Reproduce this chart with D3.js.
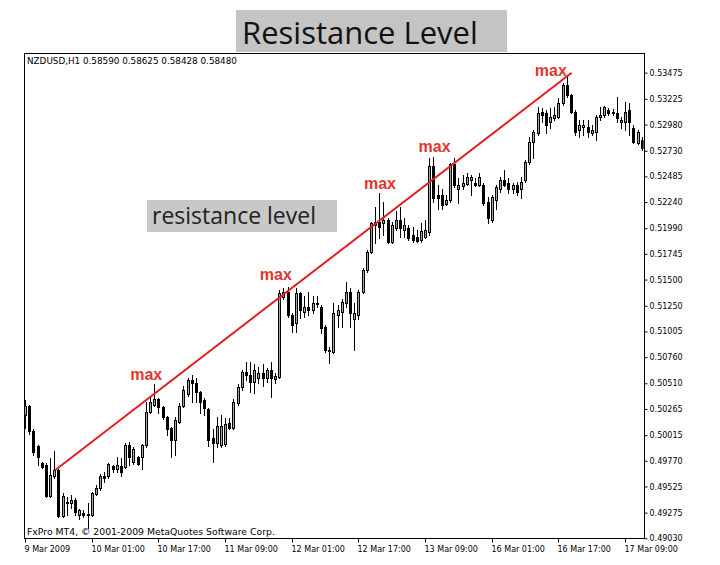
<!DOCTYPE html>
<html><head><meta charset="utf-8">
<script src="https://cdn.jsdelivr.net/npm/d3@7"></script>
<style>body{margin:0;background:#fff}</style>
</head><body>
<svg id="c" width="720" height="565"></svg>
<script>
// ---------- DATA ----------
const symbolHeader = "NZDUSD,H1  0.58590 0.58625 0.58428 0.58480";
const copyright = "FxPro MT4, \u00A9 2001-2009 MetaQuotes Software Corp.";
const timeLabels = ["9 Mar 2009","10 Mar 01:00","10 Mar 17:00","11 Mar 09:00","12 Mar 01:00","12 Mar 17:00","13 Mar 09:00","16 Mar 01:00","16 Mar 17:00","17 Mar 09:00"];
const timeLabelBars = [0,16,32,48,64,80,96,112,128,144];
const priceTicks = [0.53475,0.53225,0.52980,0.52730,0.52485,0.52240,0.51990,0.51745,0.51500,0.51250,0.51005,0.50760,0.50510,0.50265,0.50015,0.49770,0.49525,0.49275,0.49030];

const open = [.5021,.5029,.5005,.4991,.4975,.4973,.4943,.4962,.4968,.4924,
.4938,.4937,.4940,.4925,.4927,.4926,.4925,.4945,.4951,.4962,
.4962,.4972,.4969,.4972,.4971,.4992,.4976,.4981,.4981,.4992,
.5024,.5030,.5036,.5028,.5019,.5008,.4997,.5014,.5029,.5041,
.5054,.5051,.5043,.5035,.5026,.4999,.4994,.4992,.4993,.5013,
.5008,.5032,.5047,.5062,.5059,.5052,.5056,.5061,.5056,.5064,
.5055,.5057,.5133,.5138,.5116,.5109,.5137,.5119,.5124,.5121,
.5128,.5124,.5105,.5083,.5081,.5116,.5119,.5128,.5138,.5112,
.5116,.5138,.5159,.5176,.5202,.5205,.5204,.5207,.5186,.5199,
.5207,.5197,.5199,.5193,.5191,.5188,.5191,.5195,.5258,.5231,
.5231,.5222,.5226,.5260,.5236,.5239,.5241,.5245,.5242,.5240,
.5240,.5224,.5207,.5226,.5236,.5245,.5242,.5236,.5240,.5236,
.5245,.5262,.5281,.5290,.5310,.5309,.5300,.5304,.5305,.5319,
.5336,.5326,.5310,.5293,.5296,.5296,.5290,.5291,.5305,.5307,
.5312,.5309,.5309,.5300,.5300,.5312,.5295,.5280,.5283];
const high = [.5035,.5030,.5007,.4992,.4976,.4975,.4980,.4986,.4969,.4946,
.4942,.4944,.4941,.4931,.4930,.4937,.4947,.4954,.4964,.4966,
.4975,.4973,.4981,.4980,.4994,.4995,.4990,.4982,.4993,.5033,
.5038,.5050,.5037,.5029,.5020,.5009,.5019,.5032,.5048,.5056,
.5059,.5056,.5044,.5037,.5027,.5007,.5019,.5021,.5018,.5018,
.5036,.5050,.5064,.5071,.5071,.5069,.5067,.5069,.5066,.5071,
.5061,.5140,.5142,.5143,.5118,.5142,.5138,.5134,.5138,.5134,
.5134,.5126,.5107,.5086,.5128,.5126,.5131,.5148,.5142,.5128,
.5140,.5161,.5178,.5205,.5219,.5233,.5224,.5209,.5205,.5215,
.5219,.5209,.5202,.5200,.5197,.5204,.5207,.5266,.5267,.5240,
.5236,.5231,.5261,.5266,.5247,.5250,.5252,.5250,.5247,.5252,
.5242,.5229,.5231,.5240,.5248,.5255,.5247,.5242,.5243,.5248,
.5264,.5286,.5293,.5315,.5314,.5312,.5314,.5315,.5323,.5338,
.5343,.5327,.5312,.5302,.5302,.5302,.5298,.5307,.5315,.5316,
.5314,.5313,.5324,.5305,.5320,.5319,.5298,.5293,.5286];
const low = [.5008,.5003,.4983,.4973,.4970,.4942,.4942,.4961,.4923,.4923,
.4925,.4932,.4925,.4921,.4923,.4913,.4924,.4944,.4949,.4957,
.4961,.4966,.4966,.4962,.4970,.4973,.4974,.4973,.4969,.4990,
.5023,.5029,.5023,.5017,.5002,.4981,.4983,.5013,.5028,.5039,
.5033,.5033,.5023,.5021,.4991,.4976,.4990,.4990,.4991,.5007,
.5007,.5030,.5045,.5054,.5043,.5042,.5051,.5048,.5052,.5038,
.5051,.5056,.5131,.5114,.5100,.5100,.5113,.5114,.5116,.5118,
.5124,.5099,.5081,.5070,.5080,.5105,.5105,.5124,.5105,.5083,
.5112,.5137,.5157,.5175,.5185,.5190,.5193,.5185,.5185,.5197,
.5191,.5191,.5188,.5186,.5186,.5186,.5190,.5193,.5224,.5217,
.5217,.5221,.5224,.5238,.5223,.5236,.5240,.5231,.5239,.5239,
.5221,.5204,.5205,.5217,.5234,.5239,.5233,.5233,.5231,.5228,
.5243,.5260,.5266,.5288,.5300,.5290,.5295,.5302,.5304,.5317,
.5324,.5309,.5288,.5286,.5288,.5286,.5288,.5283,.5302,.5305,
.5307,.5307,.5300,.5295,.5293,.5288,.5280,.5279,.5274];
const close = [.5029,.5005,.4985,.4981,.4971,.4943,.4963,.4968,.4924,.4943,
.4937,.4940,.4928,.4930,.4925,.4925,.4946,.4951,.4962,.4961,
.4974,.4969,.4973,.4966,.4992,.4981,.4988,.4974,.4992,.5024,
.5033,.5036,.5028,.5019,.5007,.4997,.5016,.5029,.5045,.5054,
.5051,.5043,.5033,.5027,.4997,.4994,.5010,.5010,.5012,.5008,
.5033,.5047,.5062,.5059,.5052,.5064,.5061,.5056,.5064,.5056,
.5058,.5137,.5138,.5116,.5107,.5137,.5121,.5124,.5121,.5128,
.5127,.5104,.5083,.5082,.5118,.5121,.5129,.5138,.5118,.5118,
.5138,.5159,.5176,.5204,.5205,.5200,.5207,.5186,.5202,.5207,
.5199,.5202,.5190,.5188,.5187,.5196,.5197,.5258,.5228,.5228,
.5221,.5226,.5260,.5240,.5240,.5242,.5248,.5248,.5240,.5248,
.5223,.5209,.5229,.5238,.5245,.5240,.5236,.5240,.5234,.5243,
.5262,.5281,.5291,.5309,.5307,.5298,.5305,.5307,.5319,.5336,
.5326,.5310,.5291,.5298,.5298,.5291,.5293,.5305,.5307,.5315,
.5309,.5310,.5304,.5302,.5310,.5300,.5281,.5291,.5276];

// resistance line: [bar index, price]
const resistanceLine = [[7.2, 0.4968], [131.2, 0.53475]];
// "max" annotations: [bar index, price of text baseline]
const maxLabels = [[29.1, 0.5054], [60.2, 0.5150], [85.2, 0.5236], [98.3, 0.5272], [126.2, 0.5344]];

// ---------- DRAW ----------
const svg = d3.select("#c");
const L = 24, R = 644, T = 53, B = 538;
const nBars = open.length;
const x = d3.scaleLinear().domain([0, 148]).range([25, 25 + 148 * 4.1667]);
const y = d3.scaleLinear().domain([0.49030, 0.53475]).range([538.3, 72.7]);

// title box
svg.append("rect").attr("x", 236).attr("y", 10).attr("width", 271).attr("height", 42).attr("fill", "#c4c4c4");
svg.append("text").attr("x", 242).attr("y", 44).attr("font-family", "'Open Sans', sans-serif")
  .attr("font-size", 31).attr("fill", "#111").text("Resistance Level");

svg.append("defs").append("clipPath").attr("id", "clip")
  .append("rect").attr("x", L + 0.5).attr("y", T + 0.5).attr("width", R - L - 1).attr("height", B - T - 1);

const plot = svg.append("g").attr("clip-path", "url(#clip)");

const bars = d3.range(nBars).map(i => ({i, o: open[i], h: high[i], l: low[i], c: close[i]}));
const g = plot.append("g");
bars.forEach(d => {
  const cx = Math.round(x(d.i));
  const hi = Math.max(d.h, d.o, d.c), lo = Math.min(d.l, d.o, d.c);
  g.append("line").attr("x1", cx + 0.5).attr("x2", cx + 0.5)
    .attr("y1", Math.round(y(hi))).attr("y2", Math.round(y(lo)) + 1)
    .attr("stroke", "#000").attr("stroke-width", 1);
  const top = Math.round(y(Math.max(d.o, d.c))), bot = Math.round(y(Math.min(d.o, d.c)));
  const bull = d.c > d.o;
  g.append("rect").attr("x", cx - 0.5).attr("y", top + 0.5)
    .attr("width", 2).attr("height", Math.max(0, bot - top))
    .attr("fill", bull ? "#a6a6a6" : "#000").attr("stroke", "#000").attr("stroke-width", 1);
});

// resistance line
plot.append("line")
  .attr("x1", x(resistanceLine[0][0])).attr("y1", y(resistanceLine[0][1]))
  .attr("x2", x(resistanceLine[1][0])).attr("y2", y(resistanceLine[1][1]))
  .attr("stroke", "#e21f1f").attr("stroke-width", 2);

// max labels
svg.selectAll(".maxl").data(maxLabels).enter().append("text")
  .attr("x", d => x(d[0])).attr("y", d => y(d[1]))
  .attr("text-anchor", "middle").attr("font-family", "'Liberation Sans', Arial, sans-serif")
  .attr("font-weight", "bold").attr("font-size", 16).attr("fill", "#e3352d").text("max");

// resistance level box
svg.append("rect").attr("x", 147).attr("y", 200).attr("width", 190).attr("height", 32).attr("fill", "#c8c8c8");
svg.append("text").attr("x", 152).attr("y", 224).attr("font-family", "'Open Sans', sans-serif")
  .attr("font-size", 23).attr("fill", "#222").text("resistance level");

// frame
svg.append("rect").attr("x", L + 0.5).attr("y", T + 0.5).attr("width", R - L).attr("height", B - T)
  .attr("fill", "none").attr("stroke", "#000").attr("stroke-width", 1);

const small = "'DejaVu Sans', Verdana, sans-serif";
svg.append("text").attr("x", 27).attr("y", 64).attr("font-family", small).attr("font-size", 8.8)
  .attr("fill", "#000").text(symbolHeader);
svg.append("text").attr("x", 27).attr("y", 535).attr("font-family", small).attr("font-size", 9.3)
  .attr("fill", "#000").text(copyright);

// y axis (right)
const yAxis = d3.axisRight(y).tickValues(priceTicks).tickSize(3).tickPadding(2)
  .tickFormat(d3.format(".5f"));
const ya = svg.append("g").attr("transform", `translate(${R + 0.5},0)`).call(yAxis);
ya.select(".domain").remove();
ya.selectAll("text").attr("font-family", small).attr("font-size", 8).attr("fill", "#000");

// x axis (bottom)
const xa = svg.append("g").attr("transform", `translate(0,${B + 0.5})`);
timeLabelBars.forEach((b, k) => {
  const px = Math.round(x(b)) + 0.5;
  xa.append("line").attr("x1", px).attr("x2", px).attr("y1", 0).attr("y2", 4).attr("stroke", "#000");
  xa.append("text").attr("x", px - 1).attr("y", 13).attr("font-family", small).attr("font-size", 8)
    .attr("fill", "#000").text(timeLabels[k]);
});
</script>
</body></html>
